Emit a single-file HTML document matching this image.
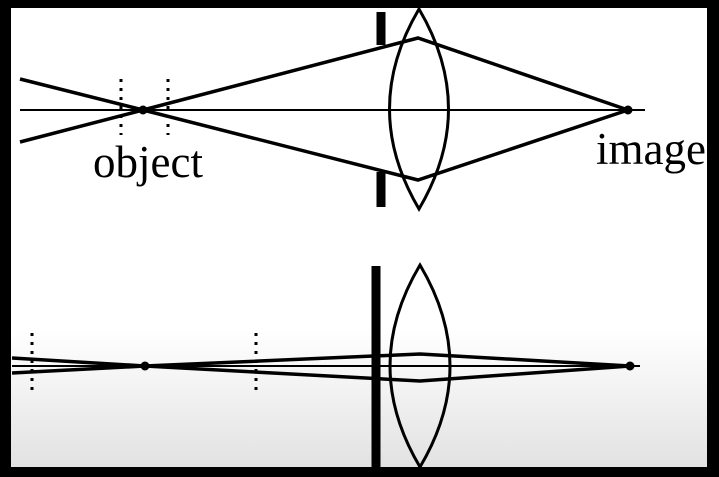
<!DOCTYPE html>
<html><head><meta charset="utf-8"><style>
html,body{margin:0;padding:0;background:#000;}
svg{display:block;}
</style></head><body>
<svg width="719" height="477" viewBox="0 0 719 477" xmlns="http://www.w3.org/2000/svg">
<defs><linearGradient id="bg" x1="0" y1="0" x2="0" y2="1">
<stop offset="0" stop-color="#ffffff"/><stop offset="0.7" stop-color="#ffffff"/><stop offset="1" stop-color="#e2e2e2"/></linearGradient></defs>
<rect x="0" y="0" width="719" height="477" fill="#000"/>
<rect x="11" y="8" width="696" height="459" fill="url(#bg)"/>
<g stroke="#000" fill="none">
<line x1="20" y1="110" x2="645" y2="110" stroke-width="2"/>
<line x1="121" y1="79" x2="121" y2="135" stroke-width="3" stroke-dasharray="3,6"/>
<line x1="168" y1="79" x2="168" y2="135" stroke-width="3" stroke-dasharray="3,6"/>
<polyline points="20,142 143,110 418,38 628,110" stroke-width="3.5"/>
<polyline points="20,79 143,110 418,180 628,110" stroke-width="3.5"/>
<line x1="381" y1="12" x2="381" y2="45" stroke-width="9"/>
<line x1="381" y1="172" x2="381" y2="207" stroke-width="9"/>
<path d="M419,9 Q360,109 419,209 Q478,109 419,9 Z" stroke-width="3"/>
<circle cx="143" cy="110" r="4" fill="#000"/>
<circle cx="628" cy="110" r="4" fill="#000"/>
</g>
<text x="93" y="177" font-family="Liberation Serif, serif" font-size="45" fill="#000">object</text>
<text x="596" y="164" font-family="Liberation Serif, serif" font-size="45" fill="#000">image</text>
<g stroke="#000" fill="none">
<line x1="12" y1="366" x2="640" y2="366" stroke-width="2"/>
<line x1="32" y1="333" x2="32" y2="392" stroke-width="3" stroke-dasharray="3,6"/>
<line x1="256" y1="333" x2="256" y2="392" stroke-width="3" stroke-dasharray="3,6"/>
<polyline points="12,373 145,366 420,354 630,366" stroke-width="3.5"/>
<polyline points="12,358 145,366 420,381 630,366" stroke-width="3.5"/>
<line x1="376" y1="266" x2="376" y2="467" stroke-width="9"/>
<path d="M420,265 Q360,366 420,467 Q480,366 420,265 Z" stroke-width="3"/>
<circle cx="145" cy="366" r="4" fill="#000"/>
<circle cx="630" cy="366" r="4" fill="#000"/>
</g>
</svg>
</body></html>
